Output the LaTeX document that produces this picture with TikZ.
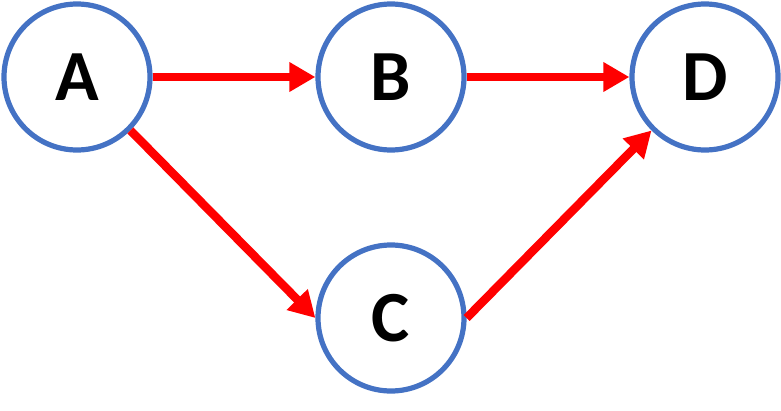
\documentclass[tikz,border=0pt]{standalone}
\usepackage{fontspec}
\setmainfont{Carlito}
\usetikzlibrary{arrows.meta}
\definecolor{nodeblue}{HTML}{4472C4}
\definecolor{arrred}{HTML}{FF0000}
\begin{document}
\begin{tikzpicture}[x=1pt,y=-1pt,
  vert/.style={circle,draw=nodeblue,line width=5.2pt,fill=white,minimum size=146pt,inner sep=0pt,
    font=\fontsize{72}{72}\selectfont\bfseries},
  edge/.style={draw=arrred,line width=8.5pt,-{Triangle[length=26pt,width=28pt]}}]
\useasboundingbox (0,0) rectangle (781,410);
\node[vert] (A) at (77,77) {A};
\node[vert] (B) at (391,77) {B};
\node[vert] (D) at (705,77) {D};
\node[vert] (C) at (391,318) {C};
\draw[edge] (A.east) -- (B.west);
\draw[edge] (B.east) -- (D.west);
\draw[edge] (A.south east) -- (C.west);
\draw[edge] (C.east) -- (D.south west);
\end{tikzpicture}
\end{document}
